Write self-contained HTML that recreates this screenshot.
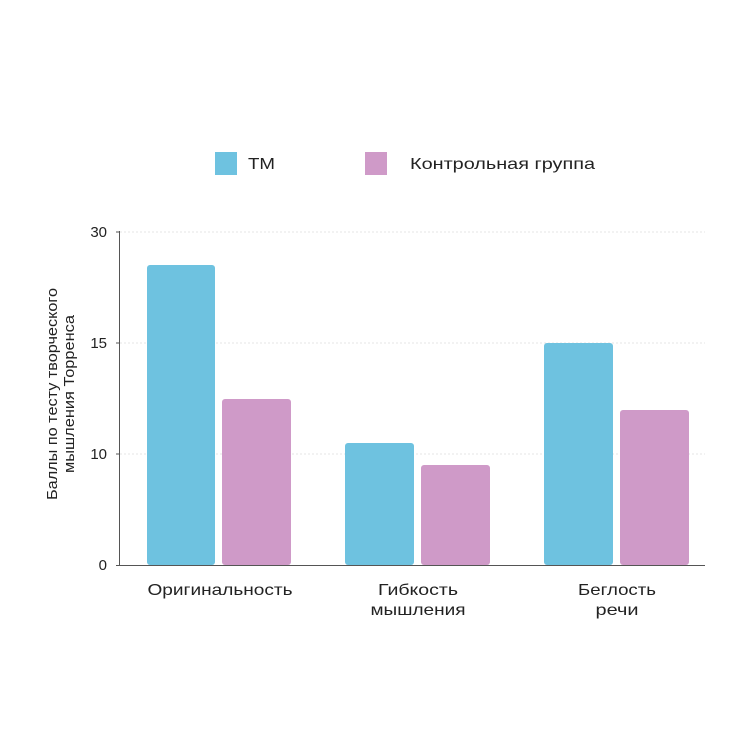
<!DOCTYPE html>
<html><head><meta charset="utf-8"><style>body{margin:0;background:#fff}</style></head><body>
<svg width="750" height="750" xmlns="http://www.w3.org/2000/svg" font-family="Liberation Sans, sans-serif" fill="#222">
<rect width="750" height="750" fill="#fff"/>
<g stroke="#e6e6e6" stroke-dasharray="2,2" stroke-width="1">
<line x1="120" y1="232" x2="705" y2="232"/><line x1="120" y1="343" x2="705" y2="343"/><line x1="120" y1="454" x2="705" y2="454"/>
</g>
<g fill="#6ec2e0">
<rect x="147" y="265" width="68" height="300" rx="3"/>
<rect x="345" y="443" width="69" height="122" rx="3"/>
<rect x="544" y="343" width="69" height="222" rx="3"/>
</g>
<g fill="#cf9ac8">
<rect x="222" y="399" width="69" height="166" rx="3"/>
<rect x="421" y="465" width="69" height="100" rx="3"/>
<rect x="620" y="410" width="69" height="155" rx="3"/>
</g>
<g stroke="#555" stroke-width="1">
<line x1="119.5" y1="231" x2="119.5" y2="565"/>
<line x1="116" y1="565.5" x2="705" y2="565.5"/>
<line x1="116" y1="232" x2="120" y2="232"/><line x1="116" y1="343" x2="120" y2="343"/><line x1="116" y1="454" x2="120" y2="454"/>
</g>
<g font-size="15" text-anchor="end">
<text x="107" y="237">30</text><text x="107" y="348">15</text><text x="107" y="459">10</text><text x="107" y="570">0</text>
</g>
<g font-size="15" text-anchor="middle" transform="translate(60,394) rotate(-90)">
<text x="0" y="-3" textLength="212" lengthAdjust="spacingAndGlyphs">Баллы по тесту творческого</text>
<text x="0" y="14" textLength="158" lengthAdjust="spacingAndGlyphs">мышления Торренса</text>
</g>
<g font-size="16" text-anchor="middle">
<text x="220" y="595" textLength="145" lengthAdjust="spacingAndGlyphs">Оригинальность</text>
<text x="418" y="595" textLength="80" lengthAdjust="spacingAndGlyphs">Гибкость</text><text x="418" y="615" textLength="95" lengthAdjust="spacingAndGlyphs">мышления</text>
<text x="617" y="595" textLength="78" lengthAdjust="spacingAndGlyphs">Беглость</text><text x="617" y="615" textLength="43" lengthAdjust="spacingAndGlyphs">речи</text>
</g>
<rect x="215" y="152" width="22" height="23" fill="#6ec2e0"/>
<text x="248" y="169" font-size="16" textLength="27" lengthAdjust="spacingAndGlyphs">ТМ</text>
<rect x="365" y="152" width="22" height="23" fill="#cf9ac8"/>
<text x="410" y="169" font-size="16" textLength="185" lengthAdjust="spacingAndGlyphs">Контрольная группа</text>
</svg>
</body></html>
